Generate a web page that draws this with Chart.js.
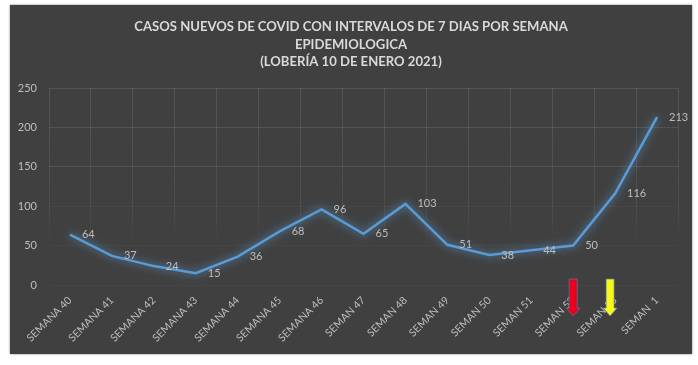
<!DOCTYPE html>
<html>
<head>
<meta charset="utf-8">
<script src="https://cdn.jsdelivr.net/npm/chart.js@4"></script>
<style>
html, body { margin: 0; padding: 0; background: #ffffff; }
#panel { position: absolute; left: 10px; top: 5px; width: 682px; height: 349px; background: #404040; box-shadow: 0 0 2px #777; }
canvas { display: block; filter: blur(0.4px); }
</style>
</head>
<body>
<div id="panel"><canvas id="casosGraph" width="682" height="349"></canvas></div>
<script>
var titleLines = ["CASOS NUEVOS DE COVID CON INTERVALOS DE 7 DIAS POR SEMANA", "EPIDEMIOLOGICA", "(LOBERÍA 10 DE ENERO 2021)"];
var semanas = ["SEMANA 40", "SEMANA 41", "SEMANA 42", "SEMANA 43", "SEMANA 44", "SEMANA 45", "SEMANA 46", "SEMAN 47", "SEMAN 48", "SEMAN 49", "SEMAN 50", "SEMAN 51", "SEMAN 52", "SEMAN 53", "SEMAN  1"];
var casos = [64, 37, 24, 15, 36, 68, 96, 65, 103, 51, 38, 44, 50, 116, 213];
var arrowSemanas = ["SEMAN 52", "SEMAN 53"];
var arrowColors = ["#e8001c", "#f8f81a"];

var textColor = "#bdbdbd";
var fontFamily = "Lato, 'Open Sans', sans-serif";

// glow around the line
var glowPlugin = {
    id: "glow",
    beforeDatasetDraw: function (chart) {
        chart.ctx.save();
        chart.ctx.shadowColor = "rgba(91, 155, 213, 1)";
        chart.ctx.shadowBlur = 9;
    },
    afterDatasetDraw: function (chart) {
        chart.ctx.restore();
    },
};

// value labels to the right of each point
var valueLabelPlugin = {
    id: "valueLabels",
    afterDatasetsDraw: function (chart) {
        var ctx = chart.ctx;
        var points = chart.getDatasetMeta(0).data;
        ctx.save();
        ctx.font = "11px " + fontFamily;
        ctx.fillStyle = textColor;
        ctx.textAlign = "left";
        ctx.textBaseline = "middle";
        points.forEach(function (point, i) {
            ctx.fillText(String(casos[i]), point.x + 12, point.y);
        });
        ctx.restore();
    },
};

// red and yellow arrows over the last axis labels
var arrowPlugin = {
    id: "arrows",
    afterDraw: function (chart) {
        var ctx = chart.ctx;
        var zero = chart.scales.y.getPixelForValue(0);
        arrowSemanas.forEach(function (name, i) {
            var x = chart.scales.x.getPixelForValue(semanas.indexOf(name)) + (i == 0 ? 0 : -5);
            var top = zero - 6;
            var bottom = zero + 31;
            ctx.save();
            ctx.fillStyle = arrowColors[i];
            ctx.strokeStyle = "rgba(90, 120, 170, 0.7)";
            ctx.lineWidth = 1;
            ctx.beginPath();
            ctx.moveTo(x - 4, top);
            ctx.lineTo(x + 4, top);
            ctx.lineTo(x + 4, bottom - 8);
            ctx.lineTo(x + 7, bottom - 8);
            ctx.lineTo(x, bottom);
            ctx.lineTo(x - 7, bottom - 8);
            ctx.lineTo(x - 4, bottom - 8);
            ctx.closePath();
            ctx.fill();
            ctx.stroke();
            ctx.restore();
        });
    },
};

// the vertical grid lines fade out towards the bottom of the plot
function fadingGridColor(context) {
    var chart = context.chart;
    var y = chart.scales.y;
    var gradient = chart.ctx.createLinearGradient(0, y.getPixelForValue(250), 0, y.getPixelForValue(0));
    gradient.addColorStop(0, "rgba(255, 255, 255, 0.11)");
    gradient.addColorStop(0.6, "rgba(255, 255, 255, 0.07)");
    gradient.addColorStop(0.8, "rgba(255, 255, 255, 0)");
    return gradient;
}

var casosGraph = new Chart("casosGraph", {
    type: "line",
    data: {
        labels: semanas,
        datasets: [{
            data: casos,
            borderColor: "#5b9bd5",
            borderWidth: 2.5,
            pointRadius: 0,
            tension: 0,
            clip: false,
        }],
    },
    options: {
        responsive: false,
        animation: false,
        plugins: {
            legend: { display: false },
            tooltip: { enabled: false },
            title: {
                display: true,
                text: titleLines,
                color: "#d9d9d9",
                font: { family: fontFamily, size: 13.1, weight: "bold", lineHeight: 1.35 },
                padding: { top: 13, bottom: 17 },
            },
        },
        scales: {
            x: {
                offset: true,
                afterFit: function (scale) { scale.height = 69; scale.paddingLeft = 0; scale.paddingRight = 0; },
                grid: { offset: true, color: fadingGridColor, drawTicks: false },
                border: { display: false },
                ticks: {
                    color: textColor,
                    font: { family: fontFamily, size: 10.5 },
                    minRotation: 45,
                    maxRotation: 45,
                    padding: 9,
                    autoSkip: false,
                },
            },
            y: {
                min: 0,
                max: 250,
                afterFit: function (scale) { scale.width = 39; },
                grid: {
                    color: function (context) {
                        return context.tick.value >= 150 ? "rgba(255, 255, 255, 0.1)" : "rgba(255, 255, 255, 0.03)";
                    },
                    drawTicks: false,
                },
                border: { display: false },
                ticks: {
                    color: textColor,
                    font: { family: fontFamily, size: 11 },
                    stepSize: 50,
                    padding: 12,
                },
            },
            // empty axis, only keeps the plot away from the right edge with the title still centred
            margen: {
                position: "right",
                afterFit: function (scale) { scale.width = 14; },
                grid: { display: false },
                border: { display: false },
                ticks: { display: false },
            },
        },
    },
    plugins: [glowPlugin, valueLabelPlugin, arrowPlugin],
});
</script>
</body>
</html>
